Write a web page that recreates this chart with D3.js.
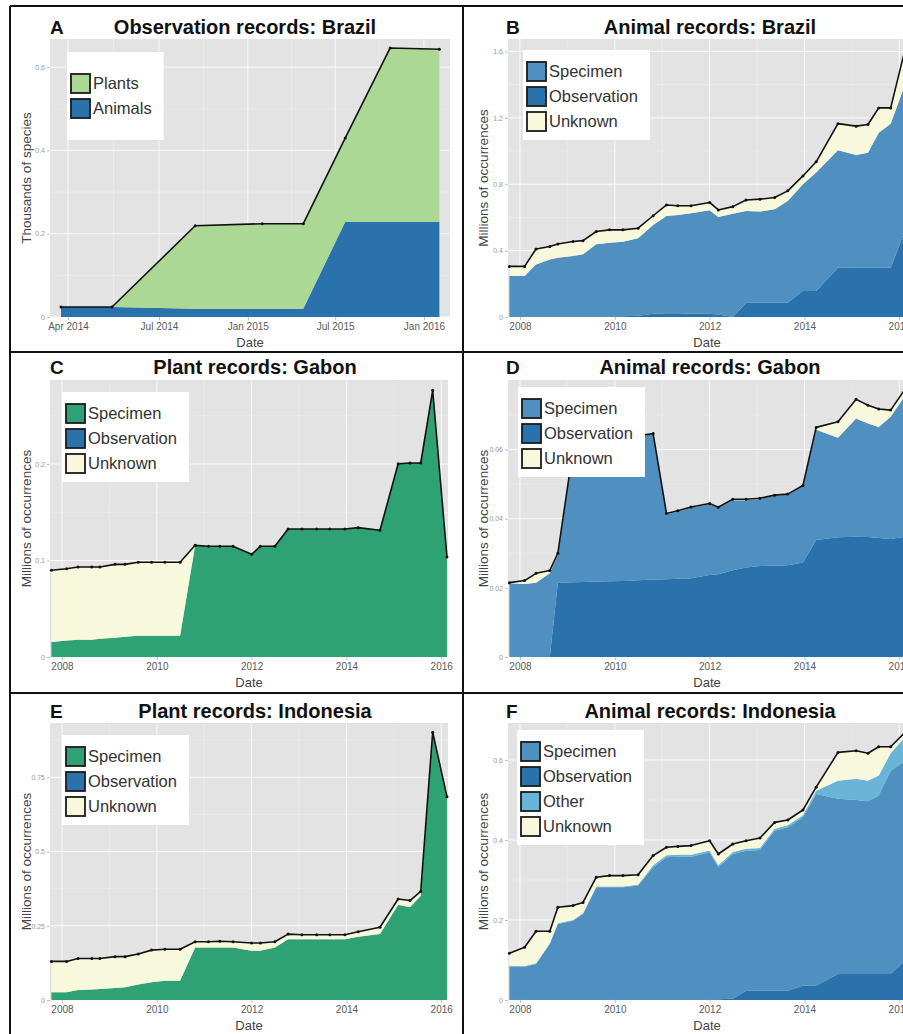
<!DOCTYPE html>
<html>
<head>
<meta charset="utf-8">
<script src="https://cdn.jsdelivr.net/npm/d3@7"></script>
<style>
  body { margin: 0; background: #fff; }
  svg text { font-family: "Liberation Sans", Arial, sans-serif; }
</style>
</head>
<body>
<svg id="figure" width="903" height="1034"></svg>
<script>
// GBIF snapshot dates shared by panels B-F
const snapshotDates = ['2007-10-12', '2008-02-06', '2008-05-04', '2008-08-18', '2008-10-19', '2009-02-13',
  '2009-05-01', '2009-08-11', '2009-11-21', '2010-03-04', '2010-06-29', '2010-10-23', '2011-02-03',
  '2011-05-01', '2011-08-11', '2012-01-01', '2012-03-08', '2012-06-28', '2012-10-08', '2013-01-23',
  '2013-05-16', '2013-08-25', '2013-12-20', '2014-04-01', '2014-09-16', '2015-02-03', '2015-05-05',
  '2015-07-27', '2015-10-27', '2016-02-14'];

const yearTicks = [2008, 2010, 2012, 2014, 2016];

// A: observation records, Brazil (thousands of species)
const brazilObsDates = ['2014-03-25', '2014-05-15', '2014-09-14', '2015-01-31', '2015-04-26', '2015-07-22', '2015-10-23', '2016-02-02'];
const brazilObsTicks = ['2014-04-01', '2014-07-01', '2015-01-01', '2015-07-01', '2016-01-01'];
const brazilObsAnimals = [0.024, 0.024, 0.020, 0.020, 0.020, 0.229, 0.229, 0.229];
const brazilObsPlants = [0, 0, 0.199, 0.204, 0.204, 0.201, 0.417, 0.414];

// B: animal records, Brazil (millions)
const brazilAnimalSpecimen = [0.242, 0.242, 0.312, 0.342, 0.352, 0.362, 0.373, 0.433, 0.443, 0.449, 0.466, 0.534,
  0.586, 0.593, 0.605, 0.623, 0.587, 0.622, 0.552, 0.549, 0.563, 0.613, 0.643, 0.713, 0.707, 0.679, 0.693, 0.813, 0.868, 0.880];
const brazilAnimalObservation = [0.005, 0.005, 0.005, 0.005, 0.005, 0.005, 0.005, 0.005, 0.005, 0.005, 0.008, 0.020,
  0.022, 0.022, 0.020, 0.020, 0.015, 0, 0.086, 0.086, 0.086, 0.086, 0.157, 0.157, 0.297, 0.297, 0.297, 0.297, 0.297, 0.520];
const brazilAnimalUnknown = [0.058, 0.058, 0.093, 0.078, 0.083, 0.088, 0.082, 0.077, 0.077, 0.071, 0.061, 0.056,
  0.067, 0.055, 0.045, 0.047, 0.043, 0.043, 0.067, 0.075, 0.071, 0.061, 0.050, 0.065, 0.161, 0.174, 0.170, 0.150, 0.095, 0.210];

// C: plant records, Gabon
const gabonPlantSpecimen = [0.0155, 0.017, 0.018, 0.018, 0.019, 0.020, 0.021, 0.022, 0.022, 0.022, 0.022, 0.1157,
  0.1147, 0.1147, 0.1147, 0.1064, 0.1147, 0.1147, 0.1326, 0.1326, 0.1326, 0.1326, 0.1326, 0.134, 0.1313, 0.2003,
  0.201, 0.201, 0.2763, 0.1036];
const gabonPlantObservation = [0, 0, 0, 0, 0, 0, 0, 0, 0, 0, 0, 0, 0, 0, 0, 0, 0, 0, 0, 0, 0, 0, 0, 0, 0, 0, 0, 0, 0, 0];
const gabonPlantUnknown = [0.0743, 0.0745, 0.0753, 0.0753, 0.0743, 0.076, 0.075, 0.0761, 0.0761, 0.0761, 0.0761, 0,
  0, 0, 0, 0, 0, 0, 0, 0, 0, 0, 0, 0, 0, 0, 0, 0, 0, 0];

// D: animal records, Gabon
const gabonAnimalSpecimen = [0.0213, 0.0211, 0.0215, 0.0242, 0.008, 0.0382, 0.0401, 0.041, 0.0409, 0.0418, 0.0416,
  0.042, 0.0188, 0.0195, 0.0204, 0.0205, 0.0192, 0.0202, 0.0194, 0.0194, 0.0202, 0.0204, 0.0221, 0.0319, 0.0288,
  0.0342, 0.0328, 0.0321, 0.0354, 0.0407];
const gabonAnimalObservation = [0, 0, 0, 0, 0.0215, 0.0216, 0.0217, 0.0218, 0.0219, 0.022, 0.0222, 0.0224, 0.0225,
  0.0226, 0.0228, 0.0237, 0.0239, 0.0251, 0.0259, 0.0263, 0.0264, 0.0265, 0.0273, 0.0338, 0.0346, 0.0348, 0.0347,
  0.0344, 0.0341, 0.0348];
const gabonAnimalUnknown = [0.0002, 0.001, 0.0027, 0.0008, 0.0005, 0.0002, 0.0002, 0.0002, 0.0002, 0.0002, 0.0002,
  0.0002, 0.0002, 0.0002, 0.0002, 0.0002, 0.0002, 0.0003, 0.0003, 0.0002, 0.0002, 0.0002, 0.0002, 0.0007, 0.0046,
  0.0055, 0.0053, 0.0052, 0.0019, 0.0019];

// E: plant records, Indonesia
const indonesiaPlantSpecimen = [0.026, 0.026, 0.034, 0.035, 0.037, 0.040, 0.043, 0.052, 0.060, 0.065, 0.065, 0.177,
  0.177, 0.177, 0.177, 0.166, 0.166, 0.177, 0.205, 0.205, 0.205, 0.205, 0.205, 0.213, 0.222, 0.321, 0.312, 0.351, 0.902, 0.685];
const indonesiaPlantObservation = [0, 0, 0, 0, 0, 0, 0, 0, 0, 0, 0, 0, 0, 0, 0, 0, 0, 0, 0, 0, 0, 0, 0, 0, 0, 0, 0, 0, 0, 0];
const indonesiaPlantUnknown = [0.104, 0.104, 0.106, 0.105, 0.103, 0.106, 0.103, 0.103, 0.108, 0.106, 0.106, 0.019,
  0.019, 0.021, 0.019, 0.026, 0.026, 0.019, 0.017, 0.015, 0.015, 0.015, 0.015, 0.017, 0.023, 0.019, 0.023, 0.015, 0, 0];

// F: animal records, Indonesia
const indonesiaAnimalSpecimen = [0.081, 0.081, 0.088, 0.138, 0.188, 0.196, 0.213, 0.280, 0.280, 0.280, 0.284, 0.330,
  0.355, 0.356, 0.356, 0.367, 0.330, 0.362, 0.350, 0.352, 0.400, 0.409, 0.421, 0.479, 0.438, 0.435, 0.432, 0.446, 0.508, 0.500];
const indonesiaAnimalObservation = [0.002, 0.002, 0.002, 0.002, 0.002, 0.002, 0.002, 0.002, 0.002, 0.002, 0.002, 0.002,
  0.002, 0.002, 0.002, 0.002, 0.002, 0.003, 0.023, 0.023, 0.023, 0.023, 0.036, 0.036, 0.065, 0.065, 0.065, 0.065, 0.065, 0.098];
const indonesiaAnimalOther = [0.002, 0.002, 0.002, 0.002, 0.002, 0.002, 0.002, 0.002, 0.002, 0.002, 0.002, 0.005,
  0.005, 0.005, 0.005, 0.005, 0.005, 0.005, 0.005, 0.005, 0.005, 0.005, 0.005, 0.008, 0.045, 0.053, 0.051, 0.050, 0.044, 0.059];
const indonesiaAnimalUnknown = [0.032, 0.047, 0.080, 0.030, 0.040, 0.036, 0.027, 0.023, 0.027, 0.027, 0.025, 0.024,
  0.020, 0.021, 0.023, 0.024, 0.028, 0.020, 0.020, 0.025, 0.016, 0.013, 0.013, 0.009, 0.071, 0.070, 0.069, 0.072, 0.016, 0.012];

const fills = {
  specimenAnimal: '#5090c0',
  specimenPlant: '#2fa275',
  observation: '#2a72ac',
  other: '#68b5d8',
  unknown: '#f8f8dc',
  plants: '#acd896',
  animals: '#2a72ac'
};

const layout = {
  cols: [{x0: 50, letterX: 50, yTitleX: 26, titleX: 255}, {x0: 508, letterX: 506, yTitleX: 483, titleX: 710}],
  rows: [{y0: 39, y1: 317, titleY: 27}, {y0: 380, y1: 657, titleY: 367}, {y0: 723, y1: 1000, titleY: 711}],
  width: 398
};

const yearDomain = ['2007-10-01', '2016-02-22'];

const panels = [
  {letter: 'A', title: 'Observation records: Brazil', col: 0, row: 0, titleX: 245, width: 400,
   dates: brazilObsDates, xDomain: ['2014-03-14', '2014-04-01', '2014-07-01', '2016-02-24'], xRange: [0, 18, 109, 400],
   xTicks: brazilObsTicks.map(d3.timeParse('%Y-%m-%d')), xFormat: d3.timeFormat('%b %Y'),
   yMax: 0.6675, yTicks: [0, 0.2, 0.4, 0.6], yLabel: 'Thousands of species',
   series: [{name: 'Animals', values: brazilObsAnimals, fill: fills.animals},
            {name: 'Plants', values: brazilObsPlants, fill: fills.plants}],
   legend: ['Plants', 'Animals'], legendAt: [17, 13]},
  {letter: 'B', title: 'Animal records: Brazil', col: 1, row: 0,
   yMax: 1.675, yTicks: [0, 0.4, 0.8, 1.2, 1.6], yLabel: 'Millions of occurrences',
   series: [{name: 'Observation', values: brazilAnimalObservation, fill: fills.observation},
            {name: 'Specimen', values: brazilAnimalSpecimen, fill: fills.specimenAnimal},
            {name: 'Unknown', values: brazilAnimalUnknown, fill: fills.unknown}],
   legend: ['Specimen', 'Observation', 'Unknown'], legendAt: [15, 11]},
  {letter: 'C', title: 'Plant records: Gabon', col: 0, row: 1,
   yMax: 0.287, yTicks: [0, 0.1, 0.2], yLabel: 'Millions of occurrences',
   series: [{name: 'Observation', values: gabonPlantObservation, fill: fills.observation},
            {name: 'Specimen', values: gabonPlantSpecimen, fill: fills.specimenPlant},
            {name: 'Unknown', values: gabonPlantUnknown, fill: fills.unknown}],
   legend: ['Specimen', 'Observation', 'Unknown'], legendAt: [12, 12]},
  {letter: 'D', title: 'Animal records: Gabon', col: 1, row: 1,
   yMax: 0.0801, yTicks: [0, 0.02, 0.04, 0.06], yLabel: 'Millions of occurrences',
   series: [{name: 'Observation', values: gabonAnimalObservation, fill: fills.observation},
            {name: 'Specimen', values: gabonAnimalSpecimen, fill: fills.specimenAnimal},
            {name: 'Unknown', values: gabonAnimalUnknown, fill: fills.unknown}],
   legend: ['Specimen', 'Observation', 'Unknown'], legendAt: [10, 7]},
  {letter: 'E', title: 'Plant records: Indonesia', col: 0, row: 2,
   yMax: 0.933, yTicks: [0, 0.25, 0.5, 0.75], yLabel: 'Millions of occurrences',
   series: [{name: 'Observation', values: indonesiaPlantObservation, fill: fills.observation},
            {name: 'Specimen', values: indonesiaPlantSpecimen, fill: fills.specimenPlant},
            {name: 'Unknown', values: indonesiaPlantUnknown, fill: fills.unknown}],
   legend: ['Specimen', 'Observation', 'Unknown'], legendAt: [12, 12]},
  {letter: 'F', title: 'Animal records: Indonesia', col: 1, row: 2,
   yMax: 0.6925, yTicks: [0, 0.2, 0.4, 0.6], yLabel: 'Millions of occurrences',
   series: [{name: 'Observation', values: indonesiaAnimalObservation, fill: fills.observation},
            {name: 'Specimen', values: indonesiaAnimalSpecimen, fill: fills.specimenAnimal},
            {name: 'Other', values: indonesiaAnimalOther, fill: fills.other},
            {name: 'Unknown', values: indonesiaAnimalUnknown, fill: fills.unknown}],
   legend: ['Specimen', 'Observation', 'Other', 'Unknown'], legendAt: [9, 7]}
];

const parseDate = d3.timeParse('%Y-%m-%d');
const svg = d3.select('#figure');

function midpoints(px) {
  return px.slice(1).map((p, i) => (p + px[i]) / 2);
}

function drawPanel(p) {
  const col = layout.cols[p.col], row = layout.rows[p.row];
  const x0 = col.x0, x1 = x0 + (p.width || layout.width), y0 = row.y0, y1 = row.y1;
  const dates = (p.dates || snapshotDates).map(parseDate);
  const xDomain = p.xDomain || yearDomain;
  const xRange = p.xRange || [0, layout.width];

  const x = d3.scaleTime()
    .domain(xDomain.map(parseDate))
    .range(xRange.map(r => x0 + r));
  const y = d3.scaleLinear()
    .domain([0, p.yMax])
    .range([y1, y0]);

  const xTicks = p.xTicks || yearTicks.map(yr => new Date(yr, 0, 1));
  const xFormat = p.xFormat || d3.timeFormat('%Y');

  const g = svg.append('g');

  g.append('rect')
    .attr('x', x0).attr('y', y0)
    .attr('width', x1 - x0).attr('height', y1 - y0)
    .attr('fill', '#e3e3e3');

  // grid lines
  const yStep = p.yTicks[1] - p.yTicks[0];
  const yMinor = midpoints(p.yTicks).concat([p.yTicks[p.yTicks.length - 1] + yStep / 2]).filter(v => v < p.yMax);
  const xMajorPx = xTicks.map(x).filter(v => v >= x0 && v <= x1);
  const xMinorPx = midpoints(xTicks.map(x)).filter(v => v >= x0 && v <= x1);

  g.selectAll('.yminor').data(yMinor).join('line')
    .attr('x1', x0).attr('x2', x1)
    .attr('y1', d => y(d)).attr('y2', d => y(d))
    .attr('stroke', '#eeeeee').attr('stroke-width', 0.6);
  g.selectAll('.xminor').data(xMinorPx).join('line')
    .attr('x1', d => d).attr('x2', d => d)
    .attr('y1', y0).attr('y2', y1)
    .attr('stroke', '#eeeeee').attr('stroke-width', 0.6);
  g.append('g').selectAll('line').data(p.yTicks).join('line')
    .attr('x1', x0).attr('x2', x1)
    .attr('y1', d => y(d)).attr('y2', d => y(d))
    .attr('stroke', '#fafafa').attr('stroke-width', 1);
  g.append('g').selectAll('line').data(xMajorPx).join('line')
    .attr('x1', d => d).attr('x2', d => d)
    .attr('y1', y0).attr('y2', y1)
    .attr('stroke', '#fafafa').attr('stroke-width', 1);

  // stacked areas
  const keys = p.series.map(s => s.name);
  const rows = dates.map((date, i) => {
    const r = {date: date};
    p.series.forEach(s => { r[s.name] = s.values[i]; });
    return r;
  });
  const stacked = d3.stack().keys(keys)(rows);
  const area = d3.area()
    .x(d => x(d.data.date))
    .y0(d => y(d[0]))
    .y1(d => y(d[1]));

  g.append('g').selectAll('path').data(stacked).join('path')
    .attr('d', area)
    .attr('fill', (d, i) => p.series[i].fill);

  // total line with points
  const totals = rows.map(r => ({date: r.date, value: d3.sum(keys, k => r[k])}));
  g.append('path')
    .datum(totals)
    .attr('fill', 'none')
    .attr('stroke', '#111')
    .attr('stroke-width', 1.6)
    .attr('stroke-linejoin', 'round')
    .attr('d', d3.line().x(d => x(d.date)).y(d => y(d.value)));
  g.append('g').selectAll('circle').data(totals).join('circle')
    .attr('cx', d => x(d.date))
    .attr('cy', d => y(d.value))
    .attr('r', 1.5)
    .attr('fill', '#111');

  // axes
  const xAxis = g.append('g')
    .attr('transform', `translate(0,${y1})`)
    .call(d3.axisBottom(x).tickValues(xTicks).tickFormat(xFormat).tickSize(3).tickPadding(3));
  xAxis.select('.domain').remove();
  xAxis.selectAll('line').attr('stroke', '#999').attr('stroke-width', 0.6);
  xAxis.selectAll('text')
    .attr('fill', '#5a5a5a')
    .style('font-size', '10px');

  const yAxis = g.append('g')
    .attr('transform', `translate(${x0},0)`)
    .call(d3.axisLeft(y).tickValues(p.yTicks).tickFormat(d3.format('~g')).tickSize(3).tickPadding(2));
  yAxis.select('.domain').remove();
  yAxis.selectAll('line').attr('stroke', '#999').attr('stroke-width', 0.6);
  yAxis.selectAll('text')
    .attr('fill', '#999')
    .style('font-size', '7px');

  g.append('text')
    .attr('x', (x0 + x1) / 2)
    .attr('y', y1 + 25)
    .attr('dy', '0.35em')
    .attr('text-anchor', 'middle')
    .attr('fill', '#444')
    .style('font-size', '13px')
    .text('Date');

  g.append('text')
    .attr('transform', `translate(${col.yTitleX},${(y0 + y1) / 2}) rotate(-90)`)
    .attr('dy', '0.35em')
    .attr('text-anchor', 'middle')
    .attr('fill', '#444')
    .style('font-size', '13.5px')
    .text(p.yLabel);

  // titles
  g.append('text')
    .attr('x', p.titleX || col.titleX)
    .attr('y', row.titleY)
    .attr('dy', '0.35em')
    .attr('text-anchor', 'middle')
    .attr('fill', '#111')
    .style('font-size', '20px')
    .style('font-weight', 'bold')
    .text(p.title);

  g.append('text')
    .attr('x', col.letterX)
    .attr('y', row.titleY)
    .attr('dy', '0.35em')
    .attr('fill', '#111')
    .style('font-size', '19px')
    .style('font-weight', 'bold')
    .text(p.letter);

  drawLegend(g, p, x0 + p.legendAt[0], y0 + p.legendAt[1]);
}

function drawLegend(g, p, lx, ly) {
  const n = p.legend.length;
  const key = 19, pitch = 25;
  const boxH = Math.max(88, n * pitch + 15);
  const contentH = n * pitch - (pitch - key);
  const top = n < 3 ? ly + (boxH - contentH) / 2 : ly + 12;

  const box = g.append('rect')
    .attr('x', lx).attr('y', ly)
    .attr('height', boxH)
    .attr('fill', '#fff');

  const items = g.append('g').selectAll('g').data(p.legend).join('g')
    .attr('transform', (d, i) => `translate(${lx + 4},${top + i * pitch})`);

  items.append('rect')
    .attr('width', key).attr('height', key)
    .attr('fill', d => p.series.find(s => s.name === d).fill)
    .attr('stroke', '#1a1a1a')
    .attr('stroke-width', 1.8);

  items.append('text')
    .attr('x', key + 3)
    .attr('y', key / 2)
    .attr('dy', '0.36em')
    .attr('fill', '#333')
    .style('font-size', '16.5px')
    .text(d => d);

  let widest = 0;
  items.selectAll('text').each(function() { widest = Math.max(widest, this.getComputedTextLength()); });
  box.attr('width', 4 + key + 3 + widest + 12);
}

panels.forEach(drawPanel);

// panel frame
const frame = [[10, 6, 903, 6], [10, 6, 10, 1034], [463, 6, 463, 1034], [10, 352, 903, 352], [10, 693, 903, 693]];
svg.append('g').selectAll('line').data(frame).join('line')
  .attr('x1', d => d[0]).attr('y1', d => d[1])
  .attr('x2', d => d[2]).attr('y2', d => d[3])
  .attr('stroke', '#111')
  .attr('stroke-width', 2);
</script>
</body>
</html>
